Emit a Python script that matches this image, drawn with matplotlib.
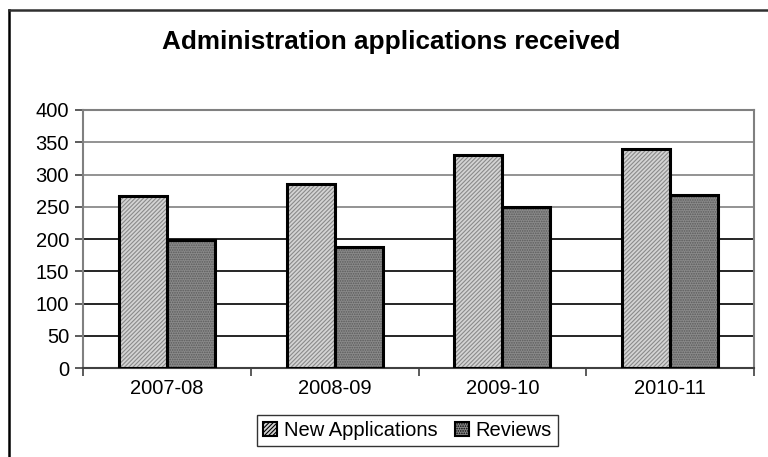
import numpy as np
import matplotlib
matplotlib.use('Agg')
import matplotlib.pyplot as plt
from matplotlib.lines import Line2D

plt.rcParams['font.family'] = ['Liberation Sans', 'DejaVu Sans']
plt.rcParams['hatch.linewidth'] = 0.8

years = ['2007-08', '2008-09', '2009-10', '2010-11']
new_apps = [266, 285, 330, 340]
reviews = [198, 188, 249, 269]
yticks = [0, 50, 100, 150, 200, 250, 300, 350, 400]

fig = plt.figure(figsize=(7.68, 4.57), dpi=100)
ax = fig.add_axes([0.1081, 0.1947, 0.8737, 0.5646])

x = np.arange(len(years))
w = 1 / 3.5

# grid lines (upper ones come out lighter)
for v in yticks[1:]:
    ax.axhline(v, color='#808080' if v >= 250 else '#000000', lw=1.2, zorder=1)

# fill + hatch first, then black outline on top
ax.bar(x - w / 2, new_apps, w, color='#d4d4d4', hatch='////////', edgecolor='#8a8a8a',
       lw=0, zorder=2)
ax.bar(x + w / 2, reviews, w, color='#8a8a8a', hatch='.......', edgecolor='#5a5a5a',
       lw=0, zorder=2)
ax.bar(x - w / 2, new_apps, w, fill=False, edgecolor='black', lw=2.2, zorder=3)
ax.bar(x + w / 2, reviews, w, fill=False, edgecolor='black', lw=2.2, zorder=3)

ax.set_xlim(-0.5, 3.5)
ax.set_ylim(0, 400)
ax.set_yticks(yticks)
ax.set_yticklabels([str(v) for v in yticks], fontsize=14.5)
ax.set_xticks(x)
ax.set_xticklabels(years, fontsize=14.5)
ax.set_xticks(np.arange(-0.5, 4.0, 1.0), minor=True)
ax.tick_params(axis='x', which='major', length=0, pad=8)
ax.tick_params(axis='x', which='minor', length=6, color='#404040', width=1.2)
ax.tick_params(axis='y', length=6, color='#404040', width=1.2, pad=4)

for side in ['left', 'right', 'top']:
    ax.spines[side].set_color('#808080')
    ax.spines[side].set_linewidth(1.5)
ax.spines['bottom'].set_color('#404040')
ax.spines['bottom'].set_linewidth(1.5)

fig.text(0.510, 0.908, 'Administration applications received', ha='center', va='center',
         fontsize=18.8, fontweight='bold')

# legend with swatches styled like the bars
h1 = plt.Rectangle((0, 0), 1, 1, facecolor='#d4d4d4', hatch='////////', edgecolor='black', lw=1.5)
h2 = plt.Rectangle((0, 0), 1, 1, facecolor='#8a8a8a', hatch='.......', edgecolor='black', lw=1.5)
leg = fig.legend([h1, h2], ['New Applications', 'Reviews'], loc='center',
                 bbox_to_anchor=(0.5306, 0.058), ncol=2, fontsize=14.5, frameon=True,
                 fancybox=False, edgecolor='black', handlelength=0.7, handleheight=0.7,
                 handletextpad=0.3, columnspacing=0.9, borderpad=0.3, borderaxespad=0)
leg.get_frame().set_linewidth(1.0)

# outer chart frame (top and left edges)
fig.add_artist(Line2D([9 / 768, 9 / 768], [0, 1 - 10 / 457], color='black', lw=1.8))
fig.add_artist(Line2D([9 / 768, 1], [1 - 10 / 457, 1 - 10 / 457], color='#303030', lw=1.8))

fig.savefig('out.png', dpi=100)
